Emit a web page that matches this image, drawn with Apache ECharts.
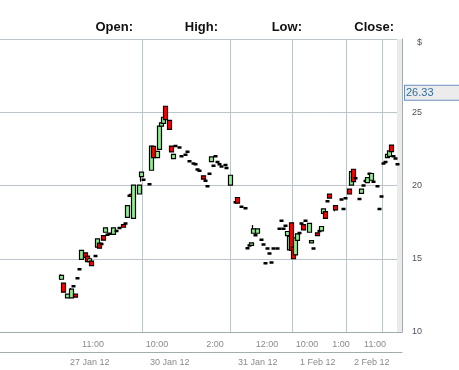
<!DOCTYPE html>
<html><head><meta charset="utf-8">
<script src="https://cdn.jsdelivr.net/npm/echarts@6/dist/echarts.min.js"></script>
<style>html,body{margin:0;padding:0;background:#fff}#c{width:459px;height:370px}</style>
</head><body><div id="c"></div>
<script>
// ---- data ----
const slotCount = 201;               // intraday time slots on the category axis
const headerLabels = ['Open:', 'High:', 'Low:', 'Close:'];
const lastPrice = 26.33;
const yMin = 10, yMax = 30, yStep = 5;
// time-of-day tick labels: [slot, label]
const timeTicks = [[44,'11:00'],[76,'10:00'],[105,'2:00'],[131,'12:00'],[151,'10:00'],[168,'1:00'],[185,'11:00']];
const minorTicks = [61, 93, 119, 136, 158, 178];
// day labels: [first slot of day, label]
const dayLabels = [[31,'27 Jan 12'],[71,'30 Jan 12'],[115,'31 Jan 12'],[146,'1 Feb 12'],[173,'2 Feb 12']];
const extraDividers = [191];
// candles: [slot, open, close, low, high]
const candles = [
[30,13.60,13.87,13.55,13.95],[31,13.33,12.72,12.70,13.36],[33,12.33,12.58,12.30,12.60],[35,12.33,12.92,12.30,13.00],
[36,13.12,13.12,13.12,13.12],[37,12.58,12.38,12.36,12.60],[38,13.67,13.67,13.67,13.67],[39,14.28,14.28,14.28,14.28],
[40,14.96,15.57,14.94,15.60],[42,15.40,15.10,15.08,15.42],[43,15.18,14.80,14.78,15.20],[44,14.80,15.00,14.78,15.02],
[45,14.84,14.53,14.50,14.86],[47,15.18,15.18,15.18,15.18],[48,15.79,16.36,15.77,16.38],[49,16.06,15.72,15.70,16.08],
[50,16.00,16.00,16.00,16.00],[51,16.58,16.27,16.25,16.60],[52,16.81,17.11,16.79,17.13],[53,16.64,16.64,16.64,16.64],
[54,16.70,16.70,16.70,16.70],[56,16.67,17.11,16.65,17.13],[58,16.90,16.90,16.90,16.90],[59,17.10,17.10,17.10,17.10],
[61,17.33,17.15,17.13,17.35],[62,17.40,17.40,17.40,17.40],[63,17.83,18.62,17.81,18.64],[64,19.30,19.30,19.30,19.30],
[65,19.40,19.25,19.23,19.42],[66,17.76,20.03,17.74,20.05],[69,19.42,20.03,19.40,20.05],[70,20.61,20.91,20.25,20.93],
[71,20.40,20.40,20.40,20.40],[74,20.08,20.08,20.08,20.08],[75,21.04,22.69,21.02,22.71],[76,22.67,21.90,21.88,22.69],
[78,21.90,22.33,21.88,22.35],[79,22.47,24.05,22.45,24.07],[80,24.05,24.28,24.03,24.30],[81,24.24,24.66,24.22,24.68],
[82,25.41,24.50,24.48,25.45],[84,24.44,23.83,23.81,24.46],[85,22.69,22.29,22.27,22.71],[86,21.83,22.13,21.81,22.15],
[87,22.70,22.70,22.70,22.70],[89,22.60,22.60,22.60,22.60],[90,22.00,22.00,22.00,22.00],[92,22.10,22.10,22.10,22.10],
[93,22.30,22.30,22.30,22.30],[94,21.66,21.66,21.66,21.66],[96,21.50,21.50,21.50,21.50],[97,21.45,21.45,21.45,21.45],
[98,21.10,21.10,21.10,21.10],[99,21.00,21.00,21.00,21.00],[101,20.66,20.43,20.41,20.68],[102,20.33,20.33,20.33,20.33],
[103,19.95,19.95,19.95,19.95],[104,20.80,20.80,20.80,20.80],[105,21.63,21.95,21.61,21.97],[106,21.35,21.35,21.35,21.35],
[107,22.00,22.00,22.00,22.00],[108,21.60,21.60,21.60,21.60],[109,21.45,21.45,21.45,21.45],[110,21.30,21.30,21.30,21.30],
[112,21.40,21.40,21.40,21.40],[113,21.20,21.20,21.20,21.20],[115,20.03,20.70,20.01,20.72],[117,18.85,18.85,18.85,18.85],
[118,19.18,18.80,18.78,19.20],[120,18.55,18.55,18.55,18.55],[122,18.45,18.45,18.45,18.45],[123,15.72,15.72,15.72,15.72],
[124,15.90,15.90,15.90,15.90],[125,15.91,16.09,15.89,16.11],[126,16.74,17.04,16.72,17.30],[127,16.60,16.60,16.60,16.60],
[128,16.74,17.04,16.72,17.06],[130,16.30,16.30,16.30,16.30],[131,15.97,15.97,15.97,15.97],[132,14.70,14.70,14.70,14.70],
[133,15.70,15.70,15.70,15.70],[134,15.35,15.35,15.35,15.35],[135,14.75,14.75,14.75,14.75],[136,15.70,15.70,15.70,15.70],
[138,15.70,15.70,15.70,15.70],[139,17.05,17.05,17.05,17.05],[140,17.60,17.60,17.60,17.60],[141,17.05,17.05,17.05,17.05],
[142,17.25,17.25,17.25,17.25],[143,16.58,16.86,16.56,16.88],[144,15.61,16.52,15.59,16.54],[145,17.45,15.57,15.55,17.47],
[146,15.79,15.00,14.98,15.81],[147,15.27,16.43,15.25,16.45],[148,16.25,16.70,16.23,16.72],[149,16.75,16.75,16.75,16.75],
[150,17.40,17.40,17.40,17.40],[151,17.33,16.97,16.95,17.35],[152,17.60,17.60,17.60,17.60],[154,16.81,17.42,16.79,17.44],
[155,16.09,16.24,16.07,16.26],[156,15.70,15.70,15.70,15.70],[158,16.77,16.58,16.56,16.79],[159,16.90,16.90,16.90,16.90],
[160,16.90,17.20,16.88,17.22],[161,18.10,18.40,18.08,18.42],[162,18.21,17.76,17.74,18.23],[163,18.93,18.93,18.93,18.93],
[164,19.41,19.14,19.12,19.43],[167,18.62,18.33,18.25,18.64],[170,19.05,19.05,19.05,19.05],[171,18.40,18.40,18.40,18.40],
[172,19.13,19.13,19.13,19.13],[174,19.75,19.42,19.40,19.77],[175,20.03,20.95,20.01,20.97],[176,21.11,20.27,20.25,21.13],
[177,20.50,20.50,20.50,20.50],[179,19.08,19.08,19.08,19.08],[180,19.46,19.75,19.44,19.77],[181,20.00,20.00,20.00,20.00],
[182,20.30,20.30,20.30,20.30],[183,20.20,20.54,20.18,20.56],[184,20.80,20.80,20.80,20.80],[185,20.36,20.82,20.34,20.84],
[186,20.25,20.25,20.25,20.25],[188,19.95,19.95,19.95,19.95],[189,18.40,18.40,18.40,18.40],[190,19.25,19.25,19.25,19.25],
[191,21.50,21.50,21.50,21.50],[192,21.60,21.60,21.60,21.60],[193,21.90,22.13,21.88,22.15],[194,21.99,22.36,21.97,22.38],
[195,22.76,22.31,22.29,22.78],[196,22.00,22.00,22.00,22.00],[197,21.85,21.85,21.85,21.85],[198,21.45,21.45,21.45,21.45]
];

// ---- build ----
const slots = Array.from({length: slotCount}, (_, i) => String(i));
const seriesData = slots.map(() => '-');
candles.forEach(([s, o, c, l, h]) => {
  seriesData[s] = (o === c) ? {value: [o, c, l, h], itemStyle: {borderWidth: 2.5}} : [o, c, l, h];
});
const timeMap = new Map(timeTicks);
const minorSet = new Set(minorTicks);
const dayMap = new Map(dayLabels);
const dividerSet = new Set(dayLabels.map(d => d[0]).concat(extraDividers));
const plotDividerSet = new Set(dayLabels.slice(1).map(d => d[0]).concat(extraDividers));

const FONT = 'Liberation Sans, Arial, sans-serif';
const gridColor = '#bcc5ca';
const axisColor = '#a4acb0';
const headerRight = [133, 218, 302, 394];

const chart = echarts.init(document.getElementById('c'), null, {renderer: 'canvas'});
chart.setOption({
  animation: false,
  textStyle: {fontFamily: FONT},
  grid: {left: 0, right: 57, top: 39, bottom: 38, containLabel: false},
  graphic: headerLabels.map((t, i) => ({
    type: 'text', x: headerRight[i], y: 27,
    style: {text: t, fill: '#111', font: 'bold 13px ' + FONT, align: 'right', verticalAlign: 'middle'}
  })),
  xAxis: [
    {
      type: 'category', data: slots, boundaryGap: true,
      axisLine: {lineStyle: {color: axisColor, width: 1}},
      axisTick: {alignWithLabel: true, interval: i => timeMap.has(i), length: 5, lineStyle: {color: '#8a8a8a'}},
      axisLabel: {interval: i => timeMap.has(i), formatter: (v, i) => timeMap.get(Number(v)) || '',
                  fontSize: 9, color: '#8a8a8a', margin: 8, padding: [0, 0, 0, 8]},
      splitLine: {show: false}
    },
    {
      type: 'category', data: slots, boundaryGap: true, position: 'bottom', offset: 20,
      axisLine: {lineStyle: {color: axisColor, width: 1}},
      axisTick: {interval: i => dividerSet.has(i), length: 18, lineStyle: {color: '#8a8a8a'}},
      axisLabel: {interval: i => dayMap.has(i), formatter: (v) => dayMap.get(Number(v)) || '',
                  fontSize: 9, color: '#8a8a8a', margin: 6, align: 'left', padding: [0, 0, 0, 7]},
      splitLine: {show: true, interval: i => plotDividerSet.has(i), lineStyle: {color: gridColor, width: 1}}
    },
    {
      type: 'category', data: slots, boundaryGap: true, position: 'bottom',
      axisLine: {show: false},
      axisTick: {alignWithLabel: true, interval: i => minorSet.has(i), length: 3, lineStyle: {color: '#8a8a8a'}},
      axisLabel: {show: false}, splitLine: {show: false}
    }
  ],
  yAxis: {
    type: 'value', position: 'right', min: yMin, max: yMax, interval: yStep,
    axisLine: {show: true, lineStyle: {color: axisColor}},
    axisTick: {show: false},
    splitLine: {lineStyle: {color: gridColor, width: 1}},
    axisLabel: {
      margin: 10, fontSize: 9, color: '#505060',
      formatter: v => v === yMax ? '{d|$}' : String(v),
      rich: {d: {padding: [8, 0, 0, 5], fontSize: 9, color: '#505060'}}
    }
  },
  series: [{
    type: 'candlestick', xAxisIndex: 0, barWidth: 4.5, data: seriesData,
    itemStyle: {color: '#90ee90', color0: '#ff0000', borderColor: '#000', borderColor0: '#000',
                borderColorDoji: '#000', borderWidth: 1.2},
    markArea: {silent: true, itemStyle: {color: '#ebebeb'}, data: [[{xAxis: 198}, {xAxis: Infinity}]]},
    markLine: {
      silent: true, symbol: 'none', lineStyle: {color: 'rgba(0,0,0,0)', width: 0, opacity: 1},
      label: {show: true, position: 'end', distance: 3, formatter: () => lastPrice.toFixed(2),
              fontSize: 11, color: '#2f6e9e', backgroundColor: '#ececec', opacity: 1,
              borderColor: '#6b8fc0', borderWidth: 1, padding: [2, 30, 1, 1]},
      data: [{yAxis: lastPrice}]
    }
  }]
});
</script></body></html>
